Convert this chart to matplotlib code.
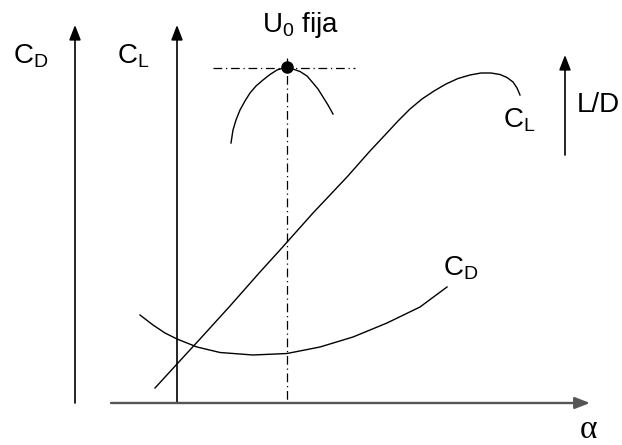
import matplotlib
matplotlib.use("Agg")
import matplotlib.pyplot as plt

plt.rcParams["font.family"] = ["Liberation Sans", "DejaVu Sans"]
plt.rcParams["mathtext.fontset"] = "custom"
plt.rcParams["mathtext.rm"] = "Liberation Sans"
plt.rcParams["mathtext.it"] = "Liberation Sans"

# curve points, in drawing units (x to the right, y downwards)
ld_x = [231, 233, 236, 240, 245, 250, 256, 263, 270, 277, 287, 300, 307, 313, 318, 323, 328, 333]
ld_y = [143, 130, 120, 110, 101, 93, 86, 80, 74.5, 70, 67, 71.5, 76, 83, 89, 97, 105, 114]

cl_x = [155, 177, 200, 230, 260, 280, 313, 347, 370, 385, 398, 410, 422, 434, 446, 458,
        470, 481, 491, 500, 507, 513, 517, 520]
cl_y = [388, 364, 339, 306, 272, 250, 213, 177, 151, 135, 121, 109, 99, 91, 84, 78.5,
        75, 73, 73, 74.5, 77.5, 82, 88, 95]

cd_x = [140, 153, 165, 177, 197, 220, 253, 287, 320, 353, 387, 420, 447]
cd_y = [315, 325, 333, 339, 347, 352.5, 355, 353.5, 347, 337, 323, 307, 287]

u0_point = (287, 67)

fig = plt.figure(figsize=(6.22, 4.45), dpi=100)
ax = fig.add_axes([0, 0, 1, 1])
ax.set_xlim(0, 622)
ax.set_ylim(445, 0)
ax.axis("off")

arrow = dict(arrowstyle="-|>,head_length=0.9,head_width=0.35", mutation_scale=10,
             color="black", lw=1.2, shrinkA=0, shrinkB=0)

# vertical axes for C_D, C_L and the L/D arrow
ax.annotate("", xy=(75, 25), xytext=(75, 403), arrowprops=arrow)
ax.annotate("", xy=(177, 25), xytext=(177, 403), arrowprops=arrow)
ax.annotate("", xy=(565, 55), xytext=(565, 155), arrowprops=arrow)

# alpha axis
ax.annotate("", xy=(590, 403), xytext=(111, 403),
            arrowprops=dict(arrow, color="#555555", lw=1.7))

# guide lines through the L/D optimum
dashdot = (0, (7, 3, 1, 3))
ax.plot([287, 287], [58, 403], color="black", lw=0.9, ls=dashdot)
ax.plot([213, 355], [68, 68], color="black", lw=0.9, ls=dashdot)

ax.plot(ld_x, ld_y, color="black", lw=1.0)
ax.plot(cl_x, cl_y, color="black", lw=1.0)
ax.plot(cd_x, cd_y, color="black", lw=1.0)
ax.plot(*u0_point, "o", color="black", ms=8)

fs = 20
ax.text(13, 63, r"$\mathrm{C_D}$", fontsize=fs)
ax.text(117, 63, r"$\mathrm{C_L}$", fontsize=fs)
ax.text(262, 32, r"$\mathrm{U_0}$ fija", fontsize=fs)
ax.text(503, 128, r"$\mathrm{C_L}$", fontsize=fs)
ax.text(577, 112, "L/D", fontsize=fs)
ax.text(443, 275, r"$\mathrm{C_D}$", fontsize=fs)
ax.text(580, 438, "α", fontsize=24, family="Liberation Serif")

fig.savefig("out.png", dpi=100)
